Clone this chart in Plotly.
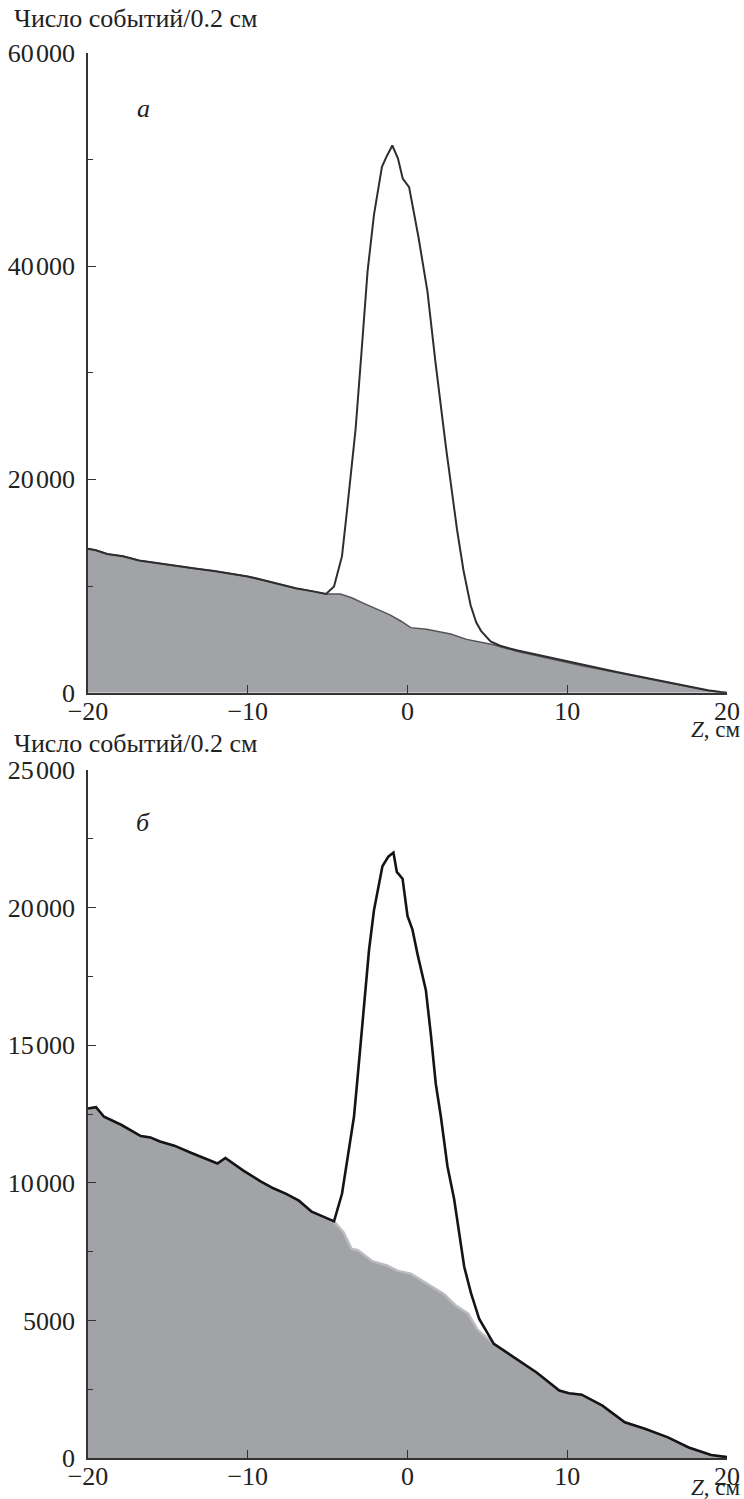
import plotly.graph_objects as go

# ---------------- data ----------------
# panel "а"
z_bg_a = [-20.0, -19.5, -18.8, -17.8, -16.8, -15.5, -14.2, -13.3, -12.1, -11.0, -10.0, -9.0, -7.9, -7.0,
          -5.9, -5.1, -4.2, -3.5, -2.7, -1.9, -1.1, -0.4, 0.2, 1.2, 2.7, 3.7, 5.4, 6.9, 9.0, 11.0, 13.1,
          15.2, 17.3, 18.8, 19.6, 20.0]
bg_a = [13500, 13350, 13000, 12800, 12400, 12100, 11850, 11650, 11400, 11150, 10900, 10550, 10150, 9800,
        9500, 9250, 9250, 8900, 8350, 7800, 7300, 6700, 6100, 5950, 5500, 5000, 4500, 3850, 3150, 2500, 1900,
        1250, 650, 200, 50, 0]
z_sig_a = [-20.0, -19.5, -18.8, -17.8, -16.8, -15.5, -14.2, -13.3, -12.1, -11.0, -10.0, -9.0, -7.9, -7.0,
           -5.9, -5.1, -4.6, -4.1, -3.8, -3.25, -2.85, -2.5, -2.1, -1.6, -1.3, -0.95, -0.6, -0.3, 0.1, 0.7,
           1.25, 1.75, 2.4, 3.1, 3.5, 3.95, 4.3, 4.6, 5.2, 5.8, 6.9, 9.0, 11.0, 13.1, 15.2, 17.3, 18.8, 19.6, 20.0]
sig_a = [13500, 13350, 13000, 12800, 12400, 12100, 11850, 11650, 11400, 11150, 10900, 10550, 10150, 9800,
         9500, 9250, 9950, 12800, 16900, 24700, 32500, 39500, 44800, 49300, 50300, 51300, 50100, 48200, 47400,
         42600, 37600, 31000, 23100, 15300, 11500, 8200, 6600, 5800, 4800, 4400, 3950, 3250, 2600, 1950, 1300,
         680, 220, 60, 0]

# panel "б"
z_bg_b = [-20.0, -19.5, -19.0, -17.9, -16.7, -16.1, -15.5, -14.6, -13.6, -12.5, -11.9, -11.4, -10.3, -9.2,
          -8.4, -7.6, -6.8, -6.0, -5.2, -4.6, -4.0, -3.5, -3.1, -2.2, -1.3, -0.6, 0.2, 1.3, 2.3, 3.0, 3.8,
          4.4, 5.4, 6.8, 8.1, 9.5, 10.1, 10.9, 12.2, 13.6, 14.9, 16.3, 17.6, 19.0, 20.0]
bg_b = [12700, 12750, 12400, 12100, 11700, 11650, 11500, 11350, 11100, 10850, 10700, 10900, 10450, 10050,
        9800, 9600, 9350, 8950, 8750, 8600, 8200, 7600, 7550, 7150, 7000, 6800, 6700, 6300, 5950, 5550, 5250,
        4650, 4150, 3600, 3100, 2450, 2350, 2300, 1900, 1300, 1050, 750, 380, 110, 30]
z_sig_b = [-20.0, -19.5, -19.0, -17.9, -16.7, -16.1, -15.5, -14.6, -13.6, -12.5, -11.9, -11.4, -10.3, -9.2,
           -8.4, -7.6, -6.8, -6.0, -5.2, -4.6, -4.1, -3.66, -3.35, -3.05, -2.72, -2.41, -2.1, -1.57, -1.2,
           -0.88, -0.67, -0.31, 0.0, 0.31, 0.63, 1.15, 1.46, 1.77, 2.09, 2.5, 2.92, 3.23, 3.55, 3.97, 4.49,
           5.4, 6.8, 8.1, 9.5, 10.1, 10.9, 12.2, 13.6, 14.9, 16.3, 17.6, 19.0, 20.0]
sig_b = [12700, 12750, 12400, 12100, 11700, 11650, 11500, 11350, 11100, 10850, 10700, 10900, 10450, 10050,
         9800, 9600, 9350, 8950, 8750, 8600, 9600, 11200, 12400, 14300, 16600, 18450, 19900, 21500, 21850,
         22000, 21300, 21050, 19700, 19200, 18300, 17000, 15400, 13600, 12400, 10600, 9400, 8200, 6950, 6000,
         5050, 4150, 3600, 3100, 2450, 2350, 2300, 1900, 1300, 1050, 750, 380, 110, 30]

x_ticks = [-20, -10, 0, 10, 20]
y_ticks_a = [0, 20000, 40000, 60000]
y_ticktext_a = ["0", "20\u200a000", "40\u200a000", "60\u200a000"]
y_ticks_b = [0, 5000, 10000, 15000, 20000, 25000]
y_ticktext_b = ["0", "5000", "10\u200a000", "15\u200a000", "20\u200a000", "25\u200a000"]

y_title = "Число событий/0.2 см"
x_title = "<i>Z</i>, см"
panel_labels = ["а", "б"]

# ---------------- figure ----------------
W, H = 744, 1499
FONT = "Liberation Serif"
FILL = "#a2a3a7"

fig = go.Figure()
fig.add_trace(go.Scatter(x=z_bg_a, y=bg_a, mode="lines", fill="tozeroy", fillcolor=FILL,
                         line=dict(color="#555555", width=1.5), xaxis="x", yaxis="y", showlegend=False))
fig.add_trace(go.Scatter(x=z_sig_a, y=sig_a, mode="lines",
                         line=dict(color="#2e2e2e", width=2), xaxis="x", yaxis="y", showlegend=False))
fig.add_trace(go.Scatter(x=z_bg_b, y=bg_b, mode="lines", fill="tozeroy", fillcolor=FILL,
                         line=dict(color="#bcbdc0", width=2.5), xaxis="x2", yaxis="y2", showlegend=False))
fig.add_trace(go.Scatter(x=z_sig_b, y=sig_b, mode="lines",
                         line=dict(color="#141414", width=2.6), xaxis="x2", yaxis="y2", showlegend=False))

def px_x(p):
    return p / W

def px_y(p):
    return 1 - p / H

xdom = [px_x(88), px_x(727)]
common_x = dict(range=[-20, 20], tickvals=x_ticks, showline=True, linecolor="#333", linewidth=1.6,
                ticks="inside", ticklen=8, tickwidth=1.3, tickcolor="#333", showgrid=False, zeroline=False,
                automargin=False, ticklabelstandoff=-6,
                tickfont=dict(family=FONT, size=26, color="#222"), domain=xdom, fixedrange=True)
common_y = dict(showline=True, linecolor="#333", linewidth=1.6, ticks="inside", ticklen=8, tickwidth=1.3,
                tickcolor="#333", showgrid=False, zeroline=False, ticklabelstandoff=6, automargin=False,
                tickfont=dict(family=FONT, size=26, color="#222"), fixedrange=True)

fig.update_layout(
    template="none",
    width=W, height=H, autosize=False,
    margin=dict(l=0, r=0, t=0, b=0),
    paper_bgcolor="white", plot_bgcolor="white",
    xaxis=dict(common_x, anchor="y"),
    yaxis=dict(common_y, range=[0, 60000], tickvals=y_ticks_a, ticktext=y_ticktext_a,
               domain=[px_y(692.7), px_y(52.7)], anchor="x",
               minor=dict(dtick=10000, tick0=0, ticks="inside", ticklen=5, tickwidth=1.2, tickcolor="#333")),
    xaxis2=dict(common_x, anchor="y2"),
    yaxis2=dict(common_y, range=[0, 25000], tickvals=y_ticks_b, ticktext=y_ticktext_b,
                domain=[px_y(1458), px_y(770)], anchor="x2",
                minor=dict(dtick=2500, tick0=0, ticks="inside", ticklen=5, tickwidth=1.2, tickcolor="#333")),
)

ann_font = dict(family=FONT, size=26, color="#222")
anns = [
    dict(text=y_title, x=px_x(12), y=px_y(19), xanchor="left", yanchor="middle"),
    dict(text=y_title, x=px_x(12), y=px_y(743), xanchor="left", yanchor="middle"),
    dict(text=x_title, x=px_x(743), y=px_y(729), xanchor="right", yanchor="middle"),
    dict(text=x_title, x=px_x(743), y=px_y(1487), xanchor="right", yanchor="middle"),
    dict(text="<i>" + panel_labels[0] + "</i>", x=px_x(143), y=px_y(108), xanchor="center", yanchor="middle"),
    dict(text="<i>" + panel_labels[1] + "</i>", x=px_x(143), y=px_y(822), xanchor="center", yanchor="middle"),
]
for a in anns:
    a["font"] = dict(ann_font, size=23) if a["text"] == x_title else ann_font
    fig.add_annotation(xref="paper", yref="paper", showarrow=False, **a)

fig.write_html("out.html")
